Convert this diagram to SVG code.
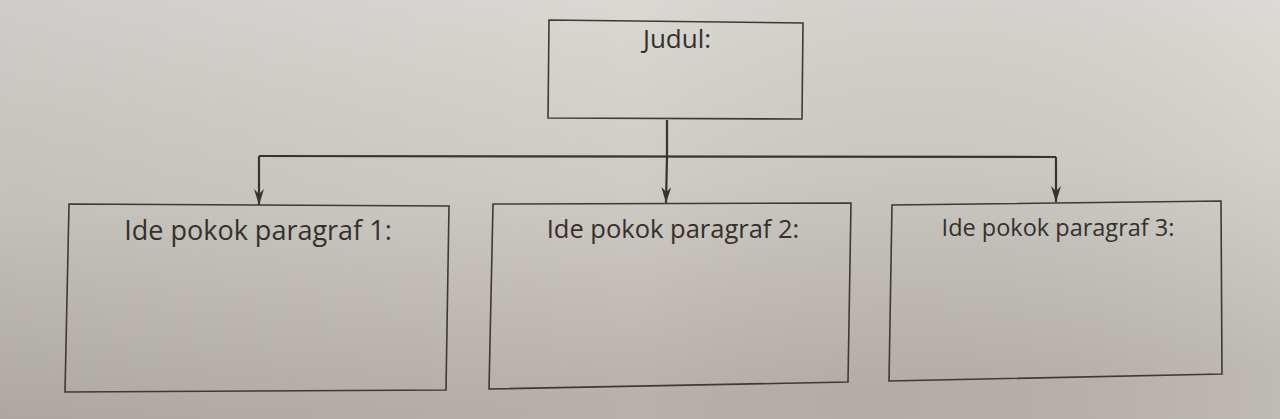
<svg xmlns="http://www.w3.org/2000/svg" width="1280" height="419" viewBox="0 0 1280 419">
  <defs>
    <linearGradient id="paper" x1="0" y1="0" x2="0.15" y2="1">
      <stop offset="0" stop-color="#dcdad6"/>
      <stop offset="0.5" stop-color="#cfcbc5"/>
      <stop offset="1" stop-color="#b6b1aa"/>
    </linearGradient>
    <linearGradient id="side" x1="0" y1="0" x2="1" y2="0">
      <stop offset="0" stop-color="#000" stop-opacity="0.06"/>
      <stop offset="0.5" stop-color="#000" stop-opacity="0"/>
      <stop offset="1" stop-color="#fff" stop-opacity="0.12"/>
    </linearGradient>
    <marker id="arrow" viewBox="0 0 16 10" refX="16" refY="5" markerWidth="16" markerHeight="10" markerUnits="userSpaceOnUse" orient="auto">
      <path d="M0,0 L16,5 L0,10 L5,5 Z" fill="#38332f"/>
    </marker>
    <style>
      .box { fill: none; stroke: #3e3935; stroke-width: 1.6; }
      .conn { fill: none; stroke: #38332f; stroke-width: 2.2; }
      .lbl { font-family: "Open Sans", "Noto Sans", "DejaVu Sans", sans-serif; fill: #35302d; text-anchor: middle; }
    </style>
  </defs>
  <rect x="0" y="0" width="1280" height="419" fill="url(#paper)"/>
  <rect x="0" y="0" width="1280" height="419" fill="url(#side)"/>

  <g id="connectors">
    <path class="conn" d="M667,120 L667,156"/>
    <path class="conn" d="M259,156 L1056,157"/>
    <path class="conn" d="M259,156 L259,205" marker-end="url(#arrow)"/>
    <path class="conn" d="M667,156 L666,203" marker-end="url(#arrow)"/>
    <path class="conn" d="M1056,157 L1056,202" marker-end="url(#arrow)"/>
  </g>

  <g id="judul">
    <polygon class="box" points="549,20 803,23 802,119 548,118"/>
    <text class="lbl" x="677" y="48" font-size="26">Judul:</text>
  </g>

  <g id="paragraf1">
    <polygon class="box" points="69,204 449,206 446,390 65,392"/>
    <text class="lbl" x="258" y="240" font-size="27">Ide pokok paragraf 1:</text>
  </g>

  <g id="paragraf2">
    <polygon class="box" points="493,204 851,203 848,382 489,389"/>
    <text class="lbl" x="673" y="238" font-size="25.5">Ide pokok paragraf 2:</text>
  </g>

  <g id="paragraf3">
    <polygon class="box" points="892,205 1221,201 1222,374 889,381"/>
    <text class="lbl" x="1058" y="236" font-size="23.5">Ide pokok paragraf 3:</text>
  </g>
</svg>
